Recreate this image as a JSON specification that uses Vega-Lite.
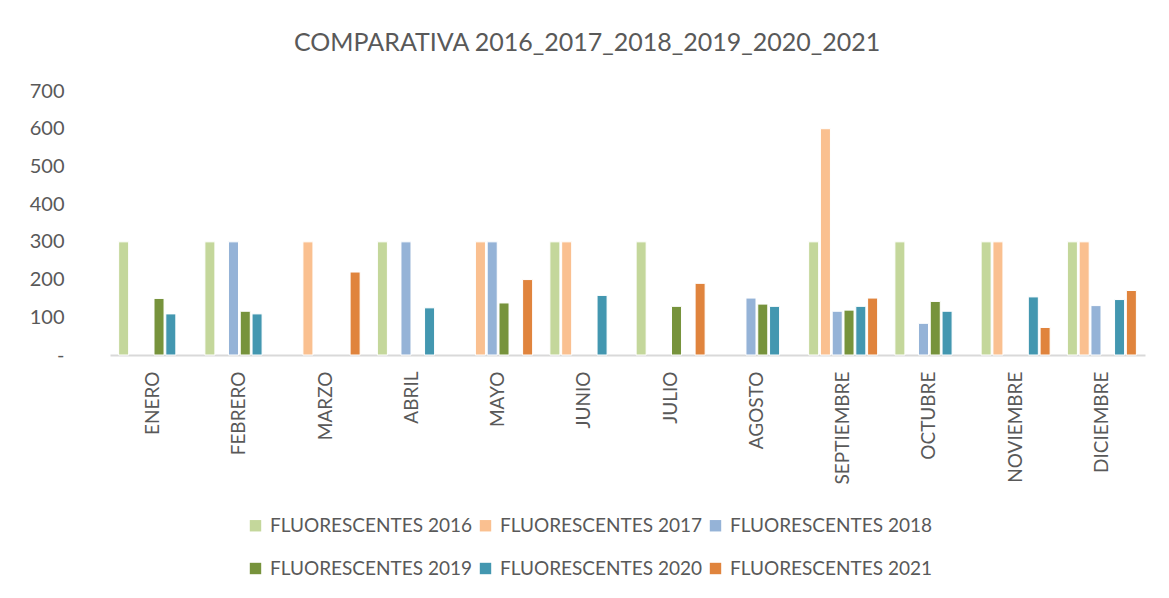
{
  "$schema": "https://vega.github.io/schema/vega-lite/v6.json",
  "autosize": {"type": "none"},
  "padding": {"left": 110, "top": 91, "right": 24, "bottom": 243},
  "width": 1035,
  "height": 264,
  "background": "white",
  "title": {
    "text": "COMPARATIVA 2016_2017_2018_2019_2020_2021",
    "font": "Lato",
    "fontSize": 25,
    "fontWeight": "normal",
    "color": "#595959",
    "offset": 25,
    "anchor": "middle",
    "frame": "bounds"
  },
  "config": {
    "view": {"stroke": null},
    "font": "Lato"
  },
  "data": {
    "values": [
      {"mes": "ENERO", "serie": "FLUORESCENTES 2016", "valor": 300},
      {"mes": "ENERO", "serie": "FLUORESCENTES 2019", "valor": 150},
      {"mes": "ENERO", "serie": "FLUORESCENTES 2020", "valor": 109},
      {"mes": "FEBRERO", "serie": "FLUORESCENTES 2016", "valor": 300},
      {"mes": "FEBRERO", "serie": "FLUORESCENTES 2018", "valor": 300},
      {"mes": "FEBRERO", "serie": "FLUORESCENTES 2019", "valor": 116},
      {"mes": "FEBRERO", "serie": "FLUORESCENTES 2020", "valor": 109},
      {"mes": "MARZO", "serie": "FLUORESCENTES 2017", "valor": 300},
      {"mes": "MARZO", "serie": "FLUORESCENTES 2021", "valor": 220},
      {"mes": "ABRIL", "serie": "FLUORESCENTES 2016", "valor": 300},
      {"mes": "ABRIL", "serie": "FLUORESCENTES 2018", "valor": 300},
      {"mes": "ABRIL", "serie": "FLUORESCENTES 2020", "valor": 125},
      {"mes": "MAYO", "serie": "FLUORESCENTES 2017", "valor": 300},
      {"mes": "MAYO", "serie": "FLUORESCENTES 2018", "valor": 300},
      {"mes": "MAYO", "serie": "FLUORESCENTES 2019", "valor": 138},
      {"mes": "MAYO", "serie": "FLUORESCENTES 2021", "valor": 200},
      {"mes": "JUNIO", "serie": "FLUORESCENTES 2016", "valor": 300},
      {"mes": "JUNIO", "serie": "FLUORESCENTES 2017", "valor": 300},
      {"mes": "JUNIO", "serie": "FLUORESCENTES 2020", "valor": 158},
      {"mes": "JULIO", "serie": "FLUORESCENTES 2016", "valor": 300},
      {"mes": "JULIO", "serie": "FLUORESCENTES 2019", "valor": 129},
      {"mes": "JULIO", "serie": "FLUORESCENTES 2021", "valor": 190},
      {"mes": "AGOSTO", "serie": "FLUORESCENTES 2018", "valor": 151},
      {"mes": "AGOSTO", "serie": "FLUORESCENTES 2019", "valor": 135},
      {"mes": "AGOSTO", "serie": "FLUORESCENTES 2020", "valor": 129},
      {"mes": "SEPTIEMBRE", "serie": "FLUORESCENTES 2016", "valor": 300},
      {"mes": "SEPTIEMBRE", "serie": "FLUORESCENTES 2017", "valor": 600},
      {"mes": "SEPTIEMBRE", "serie": "FLUORESCENTES 2018", "valor": 116},
      {"mes": "SEPTIEMBRE", "serie": "FLUORESCENTES 2019", "valor": 119},
      {"mes": "SEPTIEMBRE", "serie": "FLUORESCENTES 2020", "valor": 129},
      {"mes": "SEPTIEMBRE", "serie": "FLUORESCENTES 2021", "valor": 151},
      {"mes": "OCTUBRE", "serie": "FLUORESCENTES 2016", "valor": 300},
      {"mes": "OCTUBRE", "serie": "FLUORESCENTES 2018", "valor": 84},
      {"mes": "OCTUBRE", "serie": "FLUORESCENTES 2019", "valor": 142},
      {"mes": "OCTUBRE", "serie": "FLUORESCENTES 2020", "valor": 116},
      {"mes": "NOVIEMBRE", "serie": "FLUORESCENTES 2016", "valor": 300},
      {"mes": "NOVIEMBRE", "serie": "FLUORESCENTES 2017", "valor": 300},
      {"mes": "NOVIEMBRE", "serie": "FLUORESCENTES 2020", "valor": 154},
      {"mes": "NOVIEMBRE", "serie": "FLUORESCENTES 2021", "valor": 73},
      {"mes": "DICIEMBRE", "serie": "FLUORESCENTES 2016", "valor": 300},
      {"mes": "DICIEMBRE", "serie": "FLUORESCENTES 2017", "valor": 300},
      {"mes": "DICIEMBRE", "serie": "FLUORESCENTES 2018", "valor": 131},
      {"mes": "DICIEMBRE", "serie": "FLUORESCENTES 2020", "valor": 147},
      {"mes": "DICIEMBRE", "serie": "FLUORESCENTES 2021", "valor": 171}
    ]
  },
  "mark": {"type": "bar", "stroke": "white", "strokeWidth": 1},
  "encoding": {
    "x": {
      "field": "mes",
      "type": "nominal",
      "sort": ["ENERO", "FEBRERO", "MARZO", "ABRIL", "MAYO", "JUNIO", "JULIO", "AGOSTO", "SEPTIEMBRE", "OCTUBRE", "NOVIEMBRE", "DICIEMBRE"],
      "scale": {"paddingInner": 0.2, "paddingOuter": 0.1},
      "axis": {
        "title": null,
        "labelAngle": -90,
        "labelAlign": "right",
        "labelBaseline": "middle",
        "labelPadding": 16,
        "labelFontSize": 19,
        "labelColor": "#595959",
        "labelFont": "Lato",
        "ticks": false,
        "domainColor": "#d9d9d9",
        "domainWidth": 2
      }
    },
    "xOffset": {
      "field": "serie",
      "type": "nominal",
      "scale": {
        "domain": ["FLUORESCENTES 2016", "FLUORESCENTES 2017", "FLUORESCENTES 2018", "FLUORESCENTES 2019", "FLUORESCENTES 2020", "FLUORESCENTES 2021"],
        "paddingInner": 0.15
      }
    },
    "y": {
      "field": "valor",
      "type": "quantitative",
      "scale": {"domain": [0, 700], "nice": false},
      "axis": {
        "title": null,
        "values": [0, 100, 200, 300, 400, 500, 600, 700],
        "labelExpr": "datum.value == 0 ? '-' : datum.label",
        "grid": false,
        "ticks": false,
        "domain": false,
        "labelPadding": 46,
        "labelFontSize": 20,
        "labelColor": "#595959",
        "labelFont": "Lato"
      }
    },
    "color": {
      "field": "serie",
      "type": "nominal",
      "scale": {
        "domain": ["FLUORESCENTES 2016", "FLUORESCENTES 2017", "FLUORESCENTES 2018", "FLUORESCENTES 2019", "FLUORESCENTES 2020", "FLUORESCENTES 2021"],
        "range": ["#C4D79B", "#FAC090", "#95B3D7", "#77933C", "#4397B0", "#E0843D"]
      },
      "legend": {
        "title": null,
        "orient": "none",
        "legendX": 136,
        "legendY": 425,
        "columns": 3,
        "direction": "horizontal",
        "symbolType": "square",
        "symbolSize": 130,
        "symbolStrokeWidth": 0,
        "labelFontSize": 19,
        "labelLimit": 0,
        "labelColor": "#595959",
        "labelFont": "Lato",
        "rowPadding": 23,
        "columnPadding": 4,
        "labelOffset": 5
      }
    }
  }
}
